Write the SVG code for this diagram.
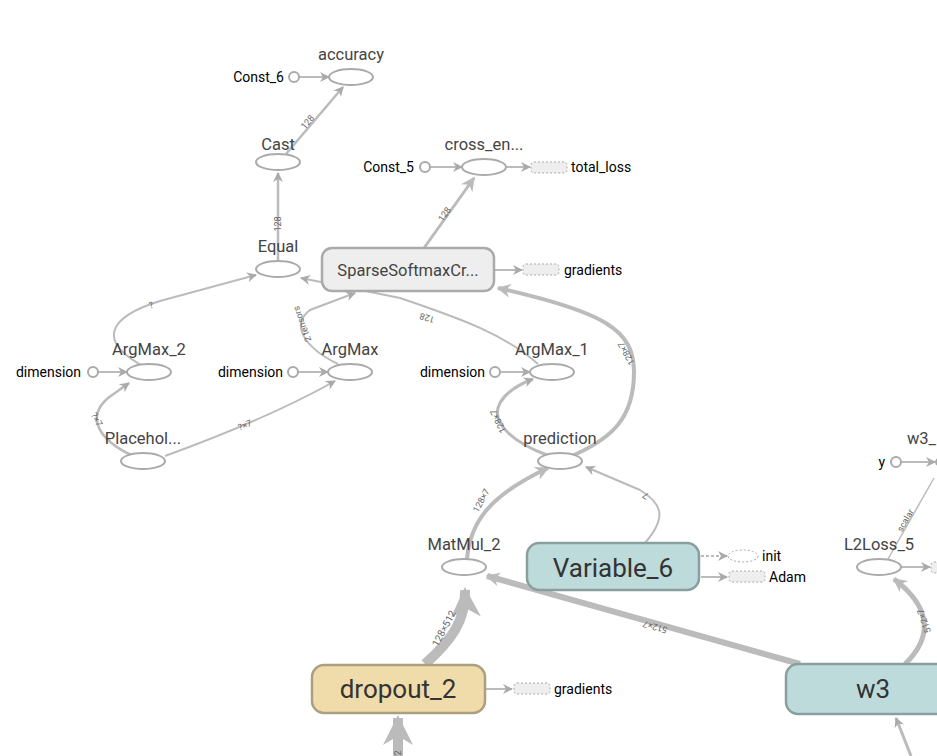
<svg xmlns="http://www.w3.org/2000/svg" width="937" height="756" viewBox="0 0 937 756">
<style>
text{font-family:Roboto,"Liberation Sans",sans-serif}
.lbl{font-size:16.5px;fill:#444;text-anchor:middle}
.side{font-size:14px;fill:#000}
.sr{text-anchor:end}
.el{fill:#fff;stroke:#aaa;stroke-width:2}
.cst{fill:#fff;stroke:#aaa;stroke-width:2}
.e{fill:none;stroke:#bbb}
.el-l{font-size:9px;fill:#666;text-anchor:middle}
.dr{fill:#eee;stroke:#aaa;stroke-width:1;stroke-dasharray:2,2}
.big{font-size:26px;fill:#333;text-anchor:middle}
</style>
<defs>
<marker id="a" viewBox="0 0 10 10" refX="9" refY="5" markerUnits="userSpaceOnUse" markerWidth="12" markerHeight="10" orient="auto"><path d="M0,0 L10,5 L0,10 L3,5 z" fill="#aaa"/></marker>
<marker id="am" viewBox="0 0 10 10" refX="9" refY="5" markerUnits="userSpaceOnUse" markerWidth="16" markerHeight="14" orient="auto"><path d="M0,0 L10,5 L0,10 L3,5 z" fill="#bbb"/></marker>
<marker id="al" viewBox="0 0 10 10" refX="9" refY="5" markerUnits="userSpaceOnUse" markerWidth="34" markerHeight="30" orient="auto"><path d="M0,0 L10,5 L0,10 L3,5 z" fill="#bbb"/></marker>
</defs>

<g id="edges">
<line class="e" x1="299" y1="77" x2="329" y2="77" stroke-width="2" marker-end="url(#a)"/>
<line class="e" x1="286" y1="154" x2="343" y2="87" stroke-width="2.5" marker-end="url(#a)"/>
<text class="el-l" transform="translate(310,124) rotate(-50)">128</text>
<line class="e" x1="278" y1="261" x2="278" y2="173" stroke-width="2.5" marker-end="url(#a)"/>
<text class="el-l" transform="translate(281,224) rotate(-90)">128</text>
<line class="e" x1="430" y1="167" x2="462" y2="167" stroke-width="2" marker-end="url(#a)"/>
<line class="e" x1="506" y1="167" x2="530" y2="167" stroke-width="2" marker-end="url(#a)"/>
<line class="e" x1="424" y1="248" x2="474" y2="178" stroke-width="3" marker-end="url(#am)"/>
<text class="el-l" transform="translate(447,216) rotate(-55)">128</text>
<line class="e" x1="494" y1="270" x2="522" y2="270" stroke-width="2" marker-end="url(#a)"/>
<path class="e" d="M141,365 C100,342 105,318 160,301 C200,290 230,282 256,275" stroke-width="2" marker-end="url(#a)"/>
<text class="el-l" transform="translate(152,308) rotate(-18)">?</text>
<line class="e" x1="98" y1="372" x2="127" y2="372" stroke-width="2" marker-end="url(#a)"/>
<line class="e" x1="298" y1="372" x2="328" y2="372" stroke-width="2" marker-end="url(#a)"/>
<line class="e" x1="500" y1="372" x2="530" y2="372" stroke-width="2" marker-end="url(#a)"/>
<path class="e" d="M131,455 C100,440 85,418 108,398 L129,383" stroke-width="2.5" marker-end="url(#a)"/>
<text class="el-l" transform="translate(94,421) rotate(62)">?×7</text>
<path class="e" d="M165,456 C220,436 280,412 335,381" stroke-width="2" marker-end="url(#a)"/>
<text class="el-l" transform="translate(246,428) rotate(-22)">?×7</text>
<path class="e" d="M338,364 C305,348 290,325 310,310 L355,293" stroke-width="2" marker-end="url(#a)"/>
<text class="el-l" transform="translate(305,323) rotate(-110)">2 tensors</text>
<path class="e" d="M538,364 C505,335 465,320 400,298 L301,278" stroke-width="2" marker-end="url(#a)"/>
<text class="el-l" transform="translate(428,315) rotate(197)">128</text>
<path class="e" d="M547,455 C520,445 488,425 500,403 C506,392 520,384 533,379" stroke-width="3" marker-end="url(#a)"/>
<text class="el-l" transform="translate(501,420) rotate(-115)">128×7</text>
<path class="e" d="M574,455 C612,438 634,418 634,372 C634,330 605,312 498,288" stroke-width="4" marker-end="url(#am)"/>
<text class="el-l" transform="translate(629,352) rotate(-118)">128×7</text>
<path class="e" d="M467,559 C470,522 490,495 548,468" stroke-width="4" marker-end="url(#am)"/>
<text class="el-l" transform="translate(484,502) rotate(-62)">128×7</text>
<path class="e" d="M645,543 C665,520 665,505 640,490 L586,467" stroke-width="2" marker-end="url(#a)"/>
<text class="el-l" transform="translate(647,493) rotate(210)">7</text>
<line class="e" x1="800" y1="664" x2="487" y2="576" stroke-width="6" marker-end="url(#am)"/>
<text class="el-l" transform="translate(656,624) rotate(196)">512×7</text>
<path class="e" d="M425,664 C452,640 466,620 465,590" stroke-width="10" marker-end="url(#al)"/>
<text class="el-l" transform="translate(447,630) rotate(-62)" style="font-size:10px">128×512</text>
<line class="e" x1="398" y1="756" x2="398" y2="718" stroke-width="10" marker-end="url(#al)"/>
<text class="el-l" transform="translate(401,753) rotate(-90)">2</text>
<line class="e" x1="701" y1="556" x2="727" y2="556" stroke-width="2" stroke-dasharray="3,2" marker-end="url(#a)"/>
<line class="e" x1="701" y1="577" x2="727" y2="577" stroke-width="2" marker-end="url(#a)"/>
<line class="e" x1="486" y1="689" x2="512" y2="689" stroke-width="2" marker-end="url(#a)"/>
<path class="e" d="M905,664 C930,640 935,610 894,579" stroke-width="5" marker-end="url(#am)"/>
<text class="el-l" transform="translate(927,620) rotate(-110)">512×7</text>
<line class="e" x1="888" y1="559" x2="934" y2="478" stroke-width="1.5"/>
<text class="el-l" transform="translate(908,522) rotate(-60)">scalar</text>
<line class="e" x1="901" y1="462" x2="935" y2="462" stroke-width="2" marker-end="url(#a)"/>
<line class="e" x1="901" y1="567" x2="930" y2="567" stroke-width="2" marker-end="url(#a)"/>
<line class="e" x1="911" y1="756" x2="896" y2="718" stroke-width="3" marker-end="url(#a)"/>
</g>

<g id="accuracy"><ellipse class="el" cx="351" cy="77" rx="22" ry="8"/><text class="lbl" x="351" y="60">accuracy</text></g>
<g id="Const_6"><circle class="cst" cx="294" cy="77" r="5"/><text class="side sr" x="284" y="82">Const_6</text></g>
<g id="Cast"><ellipse class="el" cx="278" cy="162" rx="22" ry="8"/><text class="lbl" x="278" y="150">Cast</text></g>
<g id="cross_en"><ellipse class="el" cx="484" cy="167" rx="22" ry="8"/><text class="lbl" x="484" y="150">cross_en...</text></g>
<g id="Const_5"><circle class="cst" cx="425" cy="167" r="5"/><text class="side sr" x="414" y="172">Const_5</text></g>
<g id="total_loss"><rect class="dr" x="531" y="162" width="36" height="11" rx="3"/><text class="side" x="571" y="172">total_loss</text></g>
<g id="Equal"><ellipse class="el" cx="278" cy="269" rx="22" ry="8"/><text class="lbl" x="278" y="252">Equal</text></g>
<g id="SparseSoftmax"><rect x="322" y="248" width="172" height="43" rx="10" fill="#eee" stroke="#aaa" stroke-width="2.5"/><text class="lbl" x="408" y="276">SparseSoftmaxCr...</text></g>
<g id="gradients_1"><rect class="dr" x="523" y="264" width="36" height="11" rx="3"/><text class="side" x="564" y="275">gradients</text></g>
<g id="ArgMax_2"><ellipse class="el" cx="149" cy="372" rx="22" ry="8"/><text class="lbl" x="149" y="355">ArgMax_2</text></g>
<g id="dimension_2"><circle class="cst" cx="93" cy="372" r="5"/><text class="side sr" x="81" y="377">dimension</text></g>
<g id="ArgMax"><ellipse class="el" cx="350" cy="372" rx="22" ry="8"/><text class="lbl" x="350" y="355">ArgMax</text></g>
<g id="dimension"><circle class="cst" cx="293" cy="372" r="5"/><text class="side sr" x="283" y="377">dimension</text></g>
<g id="ArgMax_1"><ellipse class="el" cx="552" cy="372" rx="22" ry="8"/><text class="lbl" x="552" y="355">ArgMax_1</text></g>
<g id="dimension_1"><circle class="cst" cx="495" cy="372" r="5"/><text class="side sr" x="485" y="377">dimension</text></g>
<g id="Placeholder"><ellipse class="el" cx="143" cy="461" rx="22" ry="8"/><text class="lbl" x="143" y="444">Placehol...</text></g>
<g id="prediction"><ellipse class="el" cx="560" cy="461" rx="22" ry="8"/><text class="lbl" x="560" y="444">prediction</text></g>
<g id="MatMul_2"><ellipse class="el" cx="464" cy="567" rx="22" ry="8"/><text class="lbl" x="464" y="550">MatMul_2</text></g>
<g id="Variable_6"><rect x="527" y="543" width="172" height="47" rx="12" fill="#bddbdb" stroke="#8a9e9e" stroke-width="2.5"/><text class="big" x="613" y="577">Variable_6</text></g>
<g id="init"><ellipse cx="743" cy="556" rx="15" ry="6" fill="#fff" stroke="#aaa" stroke-width="1" stroke-dasharray="2,2"/><text class="side" x="762" y="561">init</text></g>
<g id="Adam"><rect class="dr" x="729" y="571" width="36" height="11" rx="3"/><text class="side" x="769" y="582">Adam</text></g>
<g id="dropout_2"><rect x="312" y="665" width="173" height="48" rx="12" fill="#f0dbab" stroke="#ad9f7e" stroke-width="2.5"/><text class="big" x="398" y="698">dropout_2</text></g>
<g id="gradients_2"><rect class="dr" x="514" y="683" width="36" height="11" rx="3"/><text class="side" x="554" y="694">gradients</text></g>
<g id="w3"><rect x="786" y="664" width="180" height="50" rx="12" fill="#bddbdb" stroke="#8a9e9e" stroke-width="2.5"/><text class="big" x="873" y="698">w3</text></g>
<g id="L2Loss_5"><ellipse class="el" cx="879" cy="567" rx="22" ry="8"/><text class="lbl" x="879" y="550">L2Loss_5</text><rect class="dr" x="931" y="562" width="36" height="11" rx="3"/></g>
<g id="w3_"><ellipse class="el" cx="958" cy="462" rx="22" ry="8"/><text class="lbl" x="936" y="444" style="text-anchor:end">w3_</text></g>
<g id="y"><circle class="cst" cx="896" cy="462" r="5"/><text class="side sr" x="885" y="467">y</text></g>
</svg>
